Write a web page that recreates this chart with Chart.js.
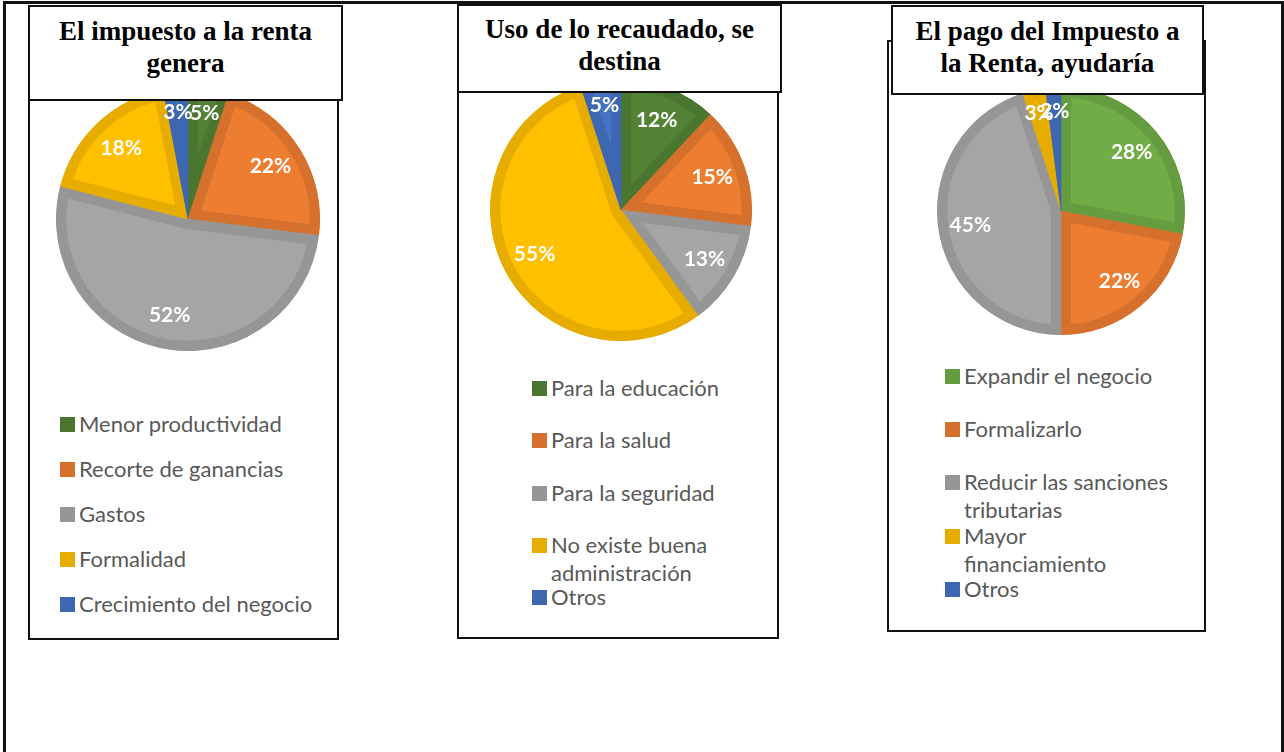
<!DOCTYPE html>
<html lang="es">
<head>
    <meta charset="UTF-8">
    <title>Impuesto a la renta</title>
    <style>
        * { box-sizing: border-box; margin: 0; padding: 0; }
        body {
            width: 1284px;
            height: 752px;
            background: #fff;
            position: relative;
            overflow: hidden;
            font-family: "Lato", sans-serif;
        }
        .frame {
            position: absolute;
            left: 3px; top: 1px;
            width: 1281px; height: 800px;
            border: 3px solid #111;
        }
        .panel {
            position: absolute;
            border: 2px solid #111;
            background: #fff;
        }
        .title {
            position: absolute;
            border: 2px solid #111;
            background: #fff;
            z-index: 5;
            text-align: center;
            font-family: "Liberation Serif", serif;
            font-weight: bold;
            font-size: 27px;
            line-height: 32px;
            color: #000;
            padding-top: 8px;
        }
        canvas { position: absolute; z-index: 2; }
        .legend { position: absolute; z-index: 3; }
        .item {
            position: absolute;
            left: 0;
            font-size: 22px;
            line-height: 28px;
            color: #595959;
            white-space: nowrap;
        }
        .item span.sw {
            position: absolute;
            width: 15px; height: 15px;
            top: 7px;
        }
    </style>
</head>
<body>
<div class="frame"></div>

<div class="panel" style="left:28px; top:50px; width:311px; height:590px;"></div>
<div class="panel" style="left:457px; top:50px; width:322px; height:589px;"></div>
<div class="panel" style="left:887px; top:40px; width:319px; height:592px;"></div>

<div class="title" id="t1" style="left:28px; top:5px; width:315px; height:96px;"></div>
<div class="title" id="t2" style="left:457px; top:4px; width:325px; height:89px; padding-top:7px;"></div>
<div class="title" id="t3" style="left:891px; top:5px; width:313px; height:90px;"></div>

<canvas id="pie1" width="264" height="264" style="left:56px; top:87px;"></canvas>
<canvas id="pie2" width="262" height="262" style="left:490px; top:79px;"></canvas>
<canvas id="pie3" width="248" height="248" style="left:937px; top:87px;"></canvas>

<div class="legend" id="lg1" style="left:60px; top:410px;"></div>
<div class="legend" id="lg2" style="left:532px; top:374px;"></div>
<div class="legend" id="lg3" style="left:945px; top:362px;"></div>

<script src="https://cdn.jsdelivr.net/npm/chart.js"></script>
<script>
    // datos de cada grafico
    const title1 = ["El impuesto a la renta", "genera"];
    const labels1 = ["Menor productividad", "Recorte de ganancias", "Gastos", "Formalidad", "Crecimiento del negocio"];
    const values1 = [5, 22, 52, 18, 3];

    const title2 = ["Uso de lo recaudado, se", "destina"];
    const labels2 = ["Para la educación", "Para la salud", "Para la seguridad", ["No existe buena", "administración"], "Otros"];
    const values2 = [12, 15, 13, 55, 5];

    const title3 = ["El pago del Impuesto a", "la Renta, ayudaría"];
    const labels3 = ["Expandir el negocio", "Formalizarlo", ["Reducir las sanciones", "tributarias"], ["Mayor", "financiamiento"], "Otros"];
    const values3 = [28, 22, 45, 3, 2];

    // colores (relleno / borde)
    const fillA = ["#548235", "#ED7D31", "#A5A5A5", "#FFC000", "#4472C4"];
    const edgeA = ["#4B7630", "#D6712D", "#969696", "#E6AD00", "#3D67B1"];
    const fillB = ["#70AD47", "#ED7D31", "#A5A5A5", "#FFC000", "#4472C4"];
    const edgeB = ["#659C40", "#D6712D", "#969696", "#E6AD00", "#3D67B1"];

    // etiquetas de porcentaje dentro de la torta
    const pctLabels = {
        id: "pctLabels",
        afterDatasetsDraw(chart) {
            const ctx = chart.ctx;
            const meta = chart.getDatasetMeta(0);
            const vals = chart.data.datasets[0].data;
            ctx.save();
            ctx.font = "bold 21px Lato";
            ctx.fillStyle = "#fff";
            ctx.textAlign = "center";
            ctx.textBaseline = "middle";
            meta.data.forEach((arc, i) => {
                const p = arc.getProps(["x", "y", "startAngle", "endAngle", "outerRadius"], true);
                const mid = (p.startAngle + p.endAngle) / 2;
                const f = vals[i] <= 5 ? 0.81 : 0.74;
                ctx.fillText(vals[i] + "%", p.x + Math.cos(mid) * p.outerRadius * f, p.y + Math.sin(mid) * p.outerRadius * f);
            });
            ctx.restore();
        }
    };

    function makePie(id, labels, values, fills, edges) {
        new Chart(document.getElementById(id), {
            type: "pie",
            data: {
                labels: labels,
                datasets: [{
                    data: values,
                    backgroundColor: fills,
                    borderColor: edges,
                    borderWidth: 10,
                    borderAlign: "inner",
                    hoverOffset: 0,
                    offset: 0
                }]
            },
            options: {
                responsive: false,
                animation: false,
                events: [],
                layout: { padding: 0 },
                plugins: { legend: { display: false }, tooltip: { enabled: false } }
            },
            plugins: [pctLabels]
        });
    }

    function makeTitle(id, lines) {
        document.getElementById(id).innerHTML = lines.join("<br>");
    }

    // leyenda en HTML, filas con paso fijo
    function makeLegend(id, labels, edges, step) {
        const box = document.getElementById(id);
        labels.forEach((lab, i) => {
            const text = Array.isArray(lab) ? lab.join("<br>") : lab;
            box.innerHTML += `<div class="item" style="top:${i * step}px">
                <span class="sw" style="background:${edges[i]}"></span>
                <div style="margin-left:19px">${text}</div></div>`;
        });
    }

    makeTitle("t1", title1);
    makeTitle("t2", title2);
    makeTitle("t3", title3);

    makePie("pie1", labels1, values1, fillA, edgeA);
    makePie("pie2", labels2, values2, fillA, edgeA);
    makePie("pie3", labels3, values3, fillB, edgeB);

    makeLegend("lg1", labels1, edgeA, 45);
    makeLegend("lg2", labels2, edgeA, 52.3);
    makeLegend("lg3", labels3, edgeB, 53.2);
</script>
</body>
</html>
